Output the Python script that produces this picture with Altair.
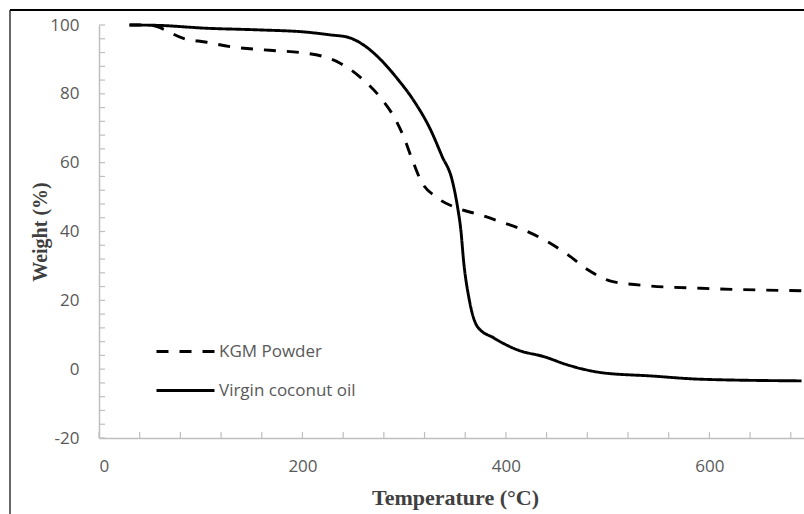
import altair as alt
import pandas as pd

# ---- data ----
kgm_temp = [30, 50, 57, 83, 106, 129, 152, 175, 198, 221, 237, 260, 277, 290, 299.5,
            308, 316, 333, 352, 375, 398, 421, 441, 461, 480.5, 503, 533, 592, 690.6]
kgm_weight = [100, 100, 99.5, 96.1, 95.0, 93.7, 93.0, 92.5, 92.0, 90.8, 88.9, 84.0, 78.8,
              73.3, 67.5, 60.8, 55.0, 49.7, 46.8, 44.8, 42.5, 40.0, 37.0, 33.2, 28.9,
              25.6, 24.4, 23.5, 22.8]

vco_temp = [30, 57, 106, 155, 205, 228, 244, 260, 277, 293, 309, 326, 337, 347.5, 352.4,
            355.7, 358.6, 363.5, 372.1, 388.2, 411.5, 437.4, 460.8, 493.6, 542.9, 592.1, 690.6]
vco_weight = [100, 99.9, 99.05, 98.6, 97.9, 97.1, 96.5, 94.2, 89.9, 84.5, 78.2, 69.5, 62.0,
              54.5, 47.2, 40.4, 30.8, 20.9, 12.3, 9.06, 5.58, 3.63, 1.22, -1.0, -1.98, -2.93, -3.4]

series_names = ["KGM Powder", "Virgin coconut oil"]
x_labels = [0, 200, 400, 600]
y_labels = [-20, 0, 20, 40, 60, 80, 100]
x_minor = list(range(0, 681, 40))
y_minor = list(range(-20, 101, 4))

rows = []
for t, w in zip(kgm_temp, kgm_weight):
    rows.append({"Temperature": t, "Weight": w, "Sample": series_names[0]})
for t, w in zip(vco_temp, vco_weight):
    rows.append({"Temperature": t, "Weight": w, "Sample": series_names[1]})
df = pd.DataFrame(rows)

W, H = 705, 413
AXIS_GREY = "#bfbfbf"
LABEL_GREY = "#595959"

xscale = alt.Scale(domain=[0, 693], nice=False, zero=False)
yscale = alt.Scale(domain=[-20, 100], nice=False, zero=False)

lines = alt.Chart(df).mark_line(color="black", strokeWidth=2.9, strokeCap="butt",
                                interpolate="monotone").encode(
    x=alt.X("Temperature:Q", scale=xscale,
            axis=alt.Axis(values=x_labels, ticks=False, tickSize=0, grid=False,
                          domainColor=AXIS_GREY, domainWidth=1.5,
                          labelColor=LABEL_GREY, labelFont="Open Sans", labelFontSize=17,
                          labelPadding=20, title="Temperature (°C)",
                          titleFont="Liberation Serif", titleFontWeight="bold",
                          titleFontSize=22, titleColor="#404040",
                          titleX=356, titleY=66, titleBaseline="alphabetic",
                          titleAlign="center")),
    y=alt.Y("Weight:Q", scale=yscale,
            axis=alt.Axis(values=y_labels, ticks=False, tickSize=0, grid=False,
                          domainColor=AXIS_GREY, domainWidth=1.5,
                          labelColor=LABEL_GREY, labelFont="Open Sans", labelFontSize=17,
                          labelPadding=20, title="Weight (%)",
                          labelExpr="datum.value < 0 ? '-' + abs(datum.value) : datum.label",
                          titleFont="Liberation Serif", titleFontWeight="bold",
                          titleFontSize=20, titleColor="#404040",
                          titleX=-59, titleY=H / 2, titleAngle=-90,
                          titleBaseline="middle", titleAlign="center")),
    strokeDash=alt.StrokeDash("Sample:N",
        scale=alt.Scale(domain=series_names, range=[[12, 11], [1, 0]]),
        legend=alt.Legend(title=None, orient="none", legendX=56, legendY=296,
                          symbolType="stroke", symbolSize=3364, symbolStrokeWidth=2.9,
                          symbolStrokeColor="black", labelFont="Open Sans",
                          labelFontSize=17, labelColor=LABEL_GREY, labelOffset=3,
                          padding=0, rowPadding=-8)),
)

xt = alt.Chart(pd.DataFrame({"t": x_minor})).mark_rule(color=AXIS_GREY, strokeWidth=1.2).encode(
    x=alt.X("t:Q", scale=xscale), y=alt.value(H), y2=alt.value(H - 6))
yt = alt.Chart(pd.DataFrame({"t": y_minor})).mark_rule(color=AXIS_GREY, strokeWidth=1.2).encode(
    y=alt.Y("t:Q", scale=yscale), x=alt.value(0), x2=alt.value(6))

one = alt.Data(values=[{"k": 1}])
frame_left = alt.Chart(one).mark_rule(color="black", strokeWidth=1.2).encode(
    x=alt.value(-89), y=alt.value(-15), y2=alt.value(489))
frame_top = alt.Chart(one).mark_rule(color="black", strokeWidth=1.8).encode(
    x=alt.value(-89), x2=alt.value(W), y=alt.value(-15))

chart = alt.layer(xt, yt, lines, frame_left, frame_top).properties(
    width=W, height=H,
    autosize=alt.AutoSizeParams(type="none"),
    padding={"left": 99, "top": 25, "right": 0, "bottom": 76},
    background="white",
).configure_view(stroke=None)

chart.save("out.html", embed_options={"renderer": "svg", "actions": False})
